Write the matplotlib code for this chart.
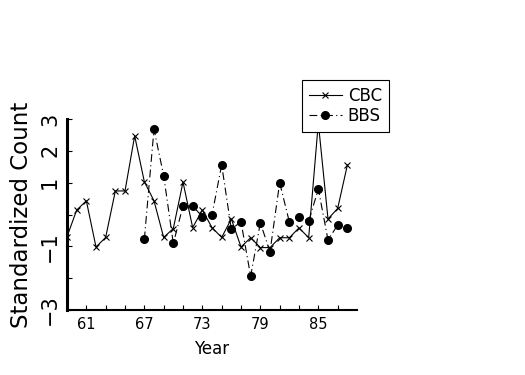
import matplotlib
matplotlib.use("Agg")
import matplotlib.pyplot as plt
from matplotlib.legend_handler import HandlerLine2D

# standardized counts
cbc_years = list(range(59, 89))
cbc_vals = [-0.70, 0.14, 0.43, -1.02, -0.72, 0.74, 0.74, 2.47, 1.03, 0.43,
            -0.72, -0.44, 1.02, -0.41, 0.14, -0.41, -0.72, -0.14, -1.02, -0.73,
            -1.04, -1.04, -0.73, -0.73, -0.42, -0.73, 2.88, -0.14, 0.19, 1.55]

bbs_years = list(range(67, 89))
bbs_vals = [-0.78, 2.68, 1.22, -0.91, 0.27, 0.27, -0.07, -0.01, 1.56, -0.46,
            -0.23, -1.94, -0.26, -1.17, 1.00, -0.23, -0.07, -0.21, 0.80, -0.80,
            -0.33, -0.41]

xtick_pos = list(range(61, 89, 2))
xtick_lab = ["61", "", "", "67", "", "", "73", "", "", "79", "", "", "85", ""]
ytick_pos = [-3, -2, -1, 0, 1, 2, 3]
ytick_lab = ["\u22123", "", "\u22121", "", "1", "2", "3"]


class LeftMarker(HandlerLine2D):
    # put the legend marker at the left end of the sample line
    def get_xdata(self, legend, xdescent, ydescent, width, height, fontsize):
        return [-xdescent, -xdescent + width], [-xdescent]


fig = plt.figure(figsize=(5.25, 3.75), dpi=100)
ax = fig.add_axes([67 / 525, 1 - 310 / 375, 290 / 525, 191 / 375])

ax.plot(cbc_years, cbc_vals, color="black", lw=0.8, marker="x",
        markersize=4, markeredgewidth=0.8, label="CBC")
ax.plot(bbs_years, bbs_vals, color="black", lw=0.8, linestyle=(0, (7, 3, 1, 3)),
        marker="o", markersize=5.5, label="BBS")

ax.set_xlim(59, 89)
ax.set_ylim(-3, 3)

ax.spines["top"].set_visible(False)
ax.spines["right"].set_visible(False)
ax.spines["left"].set_linewidth(2.2)
ax.spines["bottom"].set_linewidth(1.5)

ax.set_xticks(xtick_pos)
ax.set_xticklabels(xtick_lab, fontsize=10.5)
ax.set_yticks(ytick_pos)
ax.set_yticklabels(ytick_lab, fontsize=15, rotation=90, va="center")
ax.tick_params(axis="x", direction="in", length=3.5, width=0.8, pad=5)
ax.tick_params(axis="y", direction="in", length=3.5, width=0.8, pad=5)

ax.set_xlabel("Year", fontsize=12, labelpad=6)
ax.set_ylabel("Standardized Count", fontsize=16.5, labelpad=5)

leg = ax.legend(loc="upper left", bbox_to_anchor=(0.809, 1.204),
                fontsize=12, frameon=True, fancybox=False, framealpha=1,
                edgecolor="black", handlelength=2.0, handletextpad=0.35,
                borderpad=0.42, labelspacing=0.12, borderaxespad=0,
                handler_map={plt.Line2D: LeftMarker()})
leg.get_frame().set_linewidth(0.8)
leg.set_zorder(5)

fig.savefig("out.png", dpi=100)
